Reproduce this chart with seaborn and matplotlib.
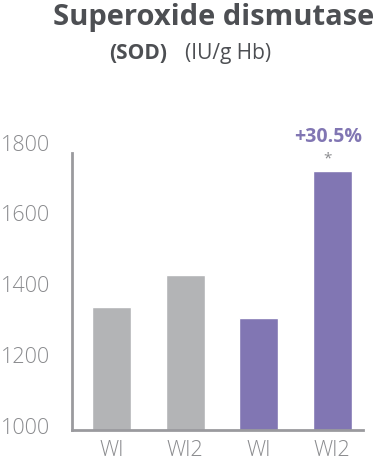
import pandas as pd
import matplotlib.pyplot as plt
import seaborn as sns
from matplotlib.transforms import ScaledTranslation

# values
slots = ["a1", "a2", "b1", "b2"]
tick_labels = ["WI", "WI2", "WI", "WI2"]
sod_values = [1348, 1438, 1316, 1730]
bar_colors = ["#b3b4b6", "#b3b4b6", "#8176b3", "#8176b3"]
y_ticks = [1000, 1200, 1400, 1600, 1800]

df = pd.DataFrame({"slot": slots, "SOD": sod_values})

sns.set_style("white")
plt.rcParams['font.family'] = ['Open Sans', 'DejaVu Sans']

fig = plt.figure(figsize=(3.81, 4.65), dpi=100)
ax = fig.add_axes([0.189, 0.0753, 0.764, 0.624])

sns.barplot(data=df, x="slot", y="SOD", hue="slot", palette=dict(zip(slots, bar_colors)),
            width=0.53, legend=False, ax=ax, saturation=1)

ax.set_ylim(1000, 1819)
ax.set_xlim(-0.537, 3.42)
ax.set_yticks(y_ticks)
ax.set_yticklabels([str(v) for v in y_ticks], fontsize=15.5, color="#8a8b8e", fontweight="light")
ax.set_xticks(range(len(slots)))
ax.set_xticklabels(tick_labels, fontsize=15.5, color="#8a8b8e", fontweight="light")
ax.tick_params(axis="both", length=0)
ax.tick_params(axis="y", pad=16)
ax.tick_params(axis="x", pad=7)
ax.set_xlabel("")
ax.set_ylabel("")
for lbl in ax.get_yticklabels():
    lbl.set_transform(lbl.get_transform() + ScaledTranslation(0, 4 / 100, fig.dpi_scale_trans))

sns.despine(ax=ax)
ax.spines["left"].set_color("#9a9a9e")
ax.spines["left"].set_linewidth(2)
ax.spines["left"].set_bounds(1000, 1782)
ax.spines["bottom"].set_color("#9a9a9e")
ax.spines["bottom"].set_linewidth(2)

# significance label above last bar
ax.text(2.94, 1826, "+30.5%", ha="center", va="center", fontsize=14, fontweight="bold",
        color="#8176b3", clip_on=False)
ax.text(2.94, 1764, "*", ha="center", va="center", fontsize=11, color="#8a8b8e", clip_on=False)

fig.text(0.561, 0.962, "Superoxide dismutase", ha="center", va="center", fontsize=21,
         fontweight="bold", color="#4d4f53")
fig.text(0.286, 0.886, "(SOD)", ha="left", va="center", fontsize=15, fontweight="bold",
         color="#4d4f53")
fig.text(0.486, 0.886, "(IU/g Hb)", ha="left", va="center", fontsize=15, color="#4d4f53")

fig.savefig("out.png", dpi=100)
